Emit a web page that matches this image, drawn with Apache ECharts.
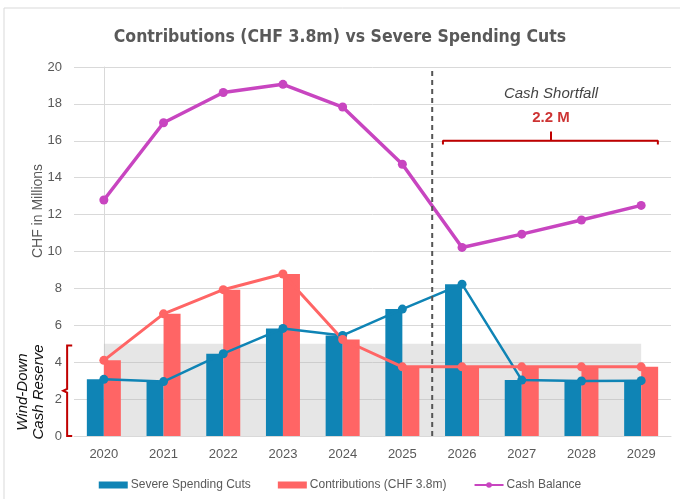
<!DOCTYPE html>
<html>
<head>
<meta charset="utf-8">
<script src="https://cdn.jsdelivr.net/npm/echarts@6/dist/echarts.min.js"></script>
<style>
  html, body { margin: 0; padding: 0; background: #fff; }
  #main { width: 680px; height: 499px; }
</style>
</head>
<body>
<div id="main"></div>
<script>
// Contributions vs severe spending cuts chart

var years = ['2020', '2021', '2022', '2023', '2024', '2025', '2026', '2027', '2028', '2029'];
var severeCuts = [3.07, 2.95, 4.46, 5.83, 5.45, 6.88, 8.23, 3.03, 2.98, 3.0];
var contributions = [4.1, 6.62, 7.93, 8.78, 5.23, 3.75, 3.75, 3.75, 3.75, 3.75];
var cashBalance = [12.79, 16.98, 18.62, 19.06, 17.83, 14.73, 10.22, 10.94, 11.71, 12.5];
var reserveLevel = [5, 5, 5, 5, 5, 5, 5, 5, 5, 5];

// annotations (x in category index units, y in CHF m)
var dividerLine = [[5.5, 0], [5.5, 20]];
var shortfallBracket = [[5.68, 15.8], [5.68, 16], [7.49, 16], [7.49, 16.5], [7.49, 16], [9.28, 16], [9.28, 15.8]];
var reserveBracket = [[-0.53, 4.9], [-0.615, 4.9], [-0.615, 2.55], [-0.68, 2.45], [-0.615, 2.35], [-0.615, 0], [-0.53, 0]];

var BLUE = '#0f84b5';
var RED = '#ff6565';
var MAGENTA = '#c845c0';
var GREY_TXT = '#595959';

var myChart = echarts.init(document.getElementById('main'));

var option = {
    animation: false,
    backgroundColor: '#fff',
    title: {
        text: 'Contributions (CHF 3.8m) vs Severe Spending Cuts',
        left: 'center',
        top: 23,
        textStyle: {
            fontFamily: 'DejaVu Sans Condensed',
            fontWeight: 'bold',
            fontSize: 17.5,
            color: GREY_TXT
        }
    },
    graphic: [
        {
            type: 'rect',
            shape: { x: 4, y: 8, width: 700, height: 520 },
            style: { fill: 'none', stroke: '#d9d9d9', lineWidth: 1 },
            silent: true
        },
        {
            type: 'text',
            x: 38, y: 211,
            rotation: Math.PI / 2,
            style: {
                text: 'CHF in Millions',
                fontFamily: 'Liberation Sans',
                fontSize: 14,
                fill: GREY_TXT,
                align: 'center',
                verticalAlign: 'middle'
            }
        },
        {
            type: 'text',
            x: 31, y: 392,
            rotation: Math.PI / 2,
            style: {
                text: 'Wind-Down\nCash Reserve',
                fontFamily: 'Liberation Sans',
                fontStyle: 'italic',
                fontSize: 15,
                lineHeight: 16,
                fill: '#111',
                align: 'center',
                verticalAlign: 'middle'
            }
        }
    ],
    legend: {
        top: 474,
        left: 'center',
        itemWidth: 29,
        itemHeight: 7,
        itemGap: 27,
        textStyle: { fontFamily: 'Liberation Sans', fontSize: 12, color: GREY_TXT, padding: [0, 0, 0, -2] },
        data: [
            { name: 'Severe Spending Cuts', icon: 'rect' },
            { name: 'Contributions (CHF 3.8m)', icon: 'rect' },
            { name: 'Cash Balance' }
        ]
    },
    grid: { left: 74, right: 9, top: 67, bottom: 63 },
    xAxis: [
        {
            type: 'category',
            data: years,
            axisLine: { lineStyle: { color: '#d9d9d9' } },
            axisTick: { show: false },
            axisLabel: { color: GREY_TXT, fontSize: 13, fontFamily: 'Liberation Sans', margin: 12 }
        },
        {
            type: 'value',
            min: -0.5,
            max: 9.5,
            show: false
        }
    ],
    yAxis: {
        type: 'value',
        min: 0,
        max: 20,
        interval: 2,
        axisLine: { show: true, lineStyle: { color: '#d9d9d9' } },
        axisTick: { show: false },
        axisLabel: { color: GREY_TXT, fontSize: 13, fontFamily: 'Liberation Sans', margin: 12 },
        splitLine: { lineStyle: { color: '#d9d9d9', width: 1 } }
    },
    series: [
        {
            name: 'reserve',
            type: 'line',
            data: reserveLevel,
            symbol: 'none',
            lineStyle: { width: 0 },
            areaStyle: { color: 'rgba(185,185,185,0.5)', origin: 'start' },
            silent: true,
            z: 1
        },
        {
            name: 'Severe Spending Cuts',
            type: 'bar',
            data: severeCuts,
            barWidth: 17,
            barGap: '0%',
            itemStyle: { color: BLUE },
            z: 2
        },
        {
            name: 'Contributions (CHF 3.8m)',
            type: 'bar',
            data: contributions,
            barWidth: 17,
            barGap: '0%',
            itemStyle: { color: RED },
            z: 2
        },
        {
            name: 'cutsLine',
            type: 'line',
            data: severeCuts,
            symbol: 'circle',
            symbolSize: 9,
            lineStyle: { color: BLUE, width: 2.5 },
            itemStyle: { color: BLUE },
            z: 3
        },
        {
            name: 'contribLine',
            type: 'line',
            data: contributions,
            symbol: 'circle',
            symbolSize: 9,
            lineStyle: { color: RED, width: 3 },
            itemStyle: { color: RED },
            z: 3
        },
        {
            name: 'Cash Balance',
            type: 'line',
            data: cashBalance,
            symbol: 'circle',
            symbolSize: 9,
            lineStyle: { color: MAGENTA, width: 3.5 },
            itemStyle: { color: MAGENTA },
            z: 4
        },
        {
            name: 'divider',
            type: 'line',
            xAxisIndex: 1,
            data: dividerLine,
            symbol: 'none',
            lineStyle: { color: '#555', width: 2, type: [5, 4] },
            silent: true,
            z: 5
        },
        {
            name: 'shortfall',
            type: 'line',
            xAxisIndex: 1,
            data: shortfallBracket,
            symbol: 'none',
            lineStyle: { color: '#c00000', width: 2 },
            silent: true,
            z: 5
        },
        {
            name: 'notes',
            type: 'scatter',
            xAxisIndex: 1,
            symbolSize: 0,
            silent: true,
            label: { show: true, position: 'inside', formatter: function (p) { return p.value[2]; } },
            data: [
                {
                    value: [7.49, 18.55, 'Cash Shortfall'],
                    label: { fontFamily: 'Liberation Sans', fontStyle: 'italic', fontSize: 15, color: '#111' }
                },
                {
                    value: [7.49, 17.25, '2.2 M'],
                    label: { fontFamily: 'Liberation Sans', fontWeight: 'bold', fontSize: 15, color: '#c00000' }
                }
            ],
            z: 6
        }
    ]
};

myChart.setOption(option);

// left bracket sits outside the grid, so place it through the axis scales
var bracketPts = reserveBracket.map(function (p) {
    return myChart.convertToPixel({ seriesIndex: 7 }, p);
});
myChart.setOption({
    graphic: option.graphic.concat([{
        type: 'polyline',
        shape: { points: bracketPts },
        style: { stroke: '#c00000', lineWidth: 2, fill: 'none' },
        silent: true,
        z: 10
    }])
});
</script>
</body>
</html>
